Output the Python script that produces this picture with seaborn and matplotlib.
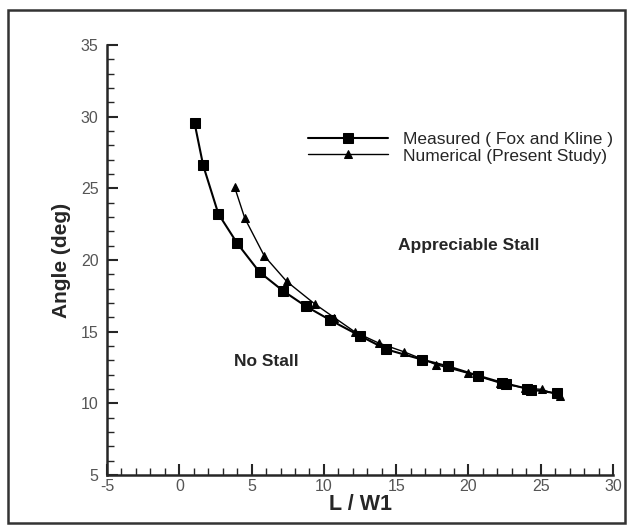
import numpy as np
import pandas as pd
import matplotlib
matplotlib.use("Agg")
import matplotlib.pyplot as plt
import seaborn as sns
from matplotlib.ticker import MultipleLocator
from matplotlib.patches import Rectangle

# Measured (Fox and Kline)
meas_x = [1.06, 1.65, 2.70, 4.00, 5.55, 7.18, 8.74, 10.45, 12.47, 14.33, 16.79,
          18.60, 20.67, 22.30, 22.60, 24.05, 24.35, 26.13]
meas_y = [29.53, 26.60, 23.22, 21.17, 19.15, 17.84, 16.78, 15.80, 14.72, 13.76, 13.05,
          12.58, 11.93, 11.45, 11.38, 11.02, 10.95, 10.70]

# Numerical (Present Study)
num_x = [3.83, 4.53, 5.88, 7.43, 9.37, 10.72, 12.16, 13.78, 15.55, 17.76, 19.96,
         22.20, 23.94, 25.08, 26.35]
num_y = [25.07, 22.91, 20.28, 18.50, 16.93, 15.98, 14.97, 14.21, 13.59, 12.70, 12.10,
         11.41, 11.06, 10.97, 10.52]

df_meas = pd.DataFrame({'L_W1': meas_x, 'angle': meas_y})
df_num = pd.DataFrame({'L_W1': num_x, 'angle': num_y})

sns.set_style('ticks')
plt.rcParams['font.family'] = ['Liberation Sans', 'DejaVu Sans']
plt.rcParams['axes.unicode_minus'] = False

fig = plt.figure(figsize=(6.27, 5.27), dpi=100)
ax = fig.add_axes([0.1707, 0.0987, 0.807, 0.816])

sns.lineplot(data=df_meas, x='L_W1', y='angle', sort=False, ax=ax, color='black',
             marker='s', markersize=7, markeredgecolor='black', linewidth=1.5,
             label='Measured ( Fox and Kline )')
sns.lineplot(data=df_num, x='L_W1', y='angle', sort=False, ax=ax, color='black',
             marker='^', markersize=5.5, markeredgecolor='black', linewidth=1.0,
             label='Numerical (Present Study)')

ax.set(xlim=(-5, 30), ylim=(5, 35))
ax.xaxis.set_major_locator(MultipleLocator(5))
ax.xaxis.set_minor_locator(MultipleLocator(1))
ax.yaxis.set_major_locator(MultipleLocator(5))
ax.yaxis.set_minor_locator(MultipleLocator(1))
ax.tick_params(which='major', direction='in', length=8, width=1.5, labelsize=11.5,
               labelcolor='#555555')
ax.tick_params(which='minor', direction='in', length=5, width=1.0)
ax.tick_params(axis='y', pad=6)
ax.tick_params(axis='x', pad=3)
for s in ['top', 'right']:
    ax.spines[s].set_visible(False)
for s in ['left', 'bottom']:
    ax.spines[s].set_linewidth(1.8)

ax.set_xlabel('L / W1', fontsize=15.5, fontweight='bold', labelpad=0)
ax.set_ylabel('Angle (deg)', fontsize=15, fontweight='bold', labelpad=7)

ax.text(20.0, 21.0, 'Appreciable Stall', fontsize=12.5, fontweight='bold',
        ha='center', va='center')
ax.text(6.0, 12.9, 'No Stall', fontsize=12.5, fontweight='bold',
        ha='center', va='center')

ax.legend(loc='upper left', bbox_to_anchor=(0.366, 0.835), frameon=False,
          fontsize=12.5, handlelength=4.6, handletextpad=0.9, labelspacing=0.1)

fig.patches.append(Rectangle((8 / 627, 4 / 527), 617 / 627, 513 / 527,
                             transform=fig.transFigure, fill=False,
                             edgecolor='#333333', linewidth=1.8))

fig.savefig('out.png', dpi=100)
